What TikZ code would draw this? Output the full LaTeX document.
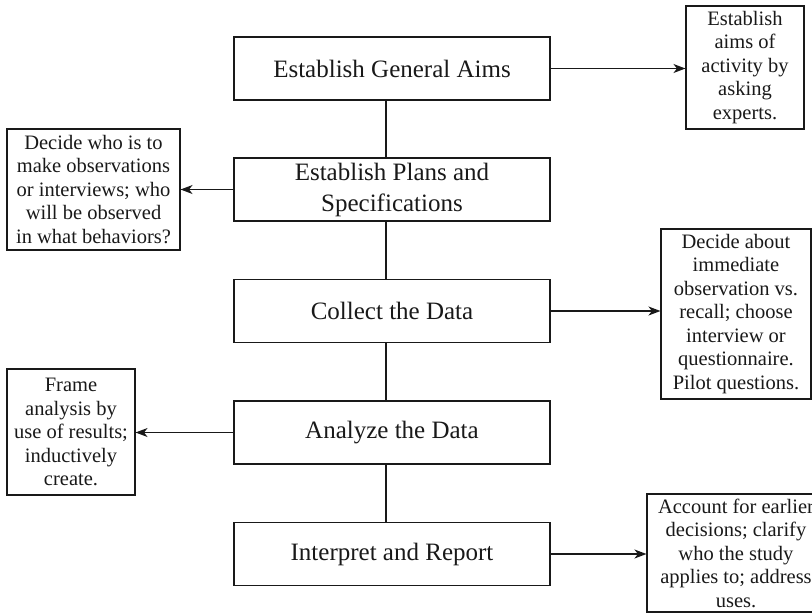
\documentclass[tikz,border=0pt]{standalone}
\usepackage{fontspec}
\setmainfont{Liberation Serif}
\usetikzlibrary{arrows.meta}
\begin{document}
\begin{tikzpicture}[x=1pt,y=-1pt,
  mainbox/.style={draw=black!90,line width=1.3pt,minimum width=316pt,minimum height=63pt,inner sep=0pt,
    font=\fontsize{25}{30}\selectfont,text=black!90},
  sidebox/.style={draw=black!90,line width=1.1pt,inner sep=2pt,align=center,
    font=\fontsize{20.5}{23.5}\selectfont,text=black!90},
  conn/.style={draw=black!90,line width=1.1pt,-{Stealth[length=12pt,width=9pt,inset=3.5pt]}},
  vline/.style={draw=black!90,line width=1.1pt}]
\useasboundingbox (0,0) rectangle (812,614);
\clip (0,0) rectangle (812,614);
\coordinate (v) at (386,0);
\node[mainbox,line width=2.3pt] (b1) at (392,68.5) {Establish General Aims};
\node[mainbox,align=center,font=\fontsize{25}{31}\selectfont] (b2) at (392,189.5) {Establish Plans and\\Specifications};
\node[mainbox] (b3) at (392,311) {Collect the Data};
\node[mainbox] (b4) at (392,432.5) {Analyze the Data};
\node[mainbox] (b5) at (392,554) {Interpret and Report};
\node[sidebox,minimum width=118pt,minimum height=123pt] (r1) at (745,67.5) {Establish\\aims of\\activity by\\asking\\experts.};
\node[sidebox,minimum width=173pt,minimum height=121pt] (l1) at (93.5,189.5) {Decide who is to\\make observations\\or interviews; who\\will be observed\\in what behaviors?};
\node[sidebox,minimum width=150pt,minimum height=170pt] (r2) at (736,314) {Decide about\\immediate\\observation vs.\\recall; choose\\interview or\\questionnaire.\\Pilot questions.};
\node[sidebox,minimum width=128pt,minimum height=126pt] (l2) at (71,432) {Frame\\analysis by\\use of results;\\inductively\\create.};
\node[sidebox,minimum width=178pt,minimum height=118pt] (r3) at (736,553) {Account for earlier\\decisions; clarify\\who the study\\applies to; address\\uses.};
\draw[vline] (b1.south -| v) -- (b2.north -| v);
\draw[vline] (b2.south -| v) -- (b3.north -| v);
\draw[vline] (b3.south -| v) -- (b4.north -| v);
\draw[vline] (b4.south -| v) -- (b5.north -| v);
\draw[conn] (b1.east) -- (b1.east -| r1.west);
\draw[conn] (b2.west) -- (b2.west -| l1.east);
\draw[conn] (b3.east) -- (b3.east -| r2.west);
\draw[conn] (b4.west) -- (b4.west -| l2.east);
\draw[conn] (b5.east) -- (b5.east -| r3.west);
\end{tikzpicture}
\end{document}
